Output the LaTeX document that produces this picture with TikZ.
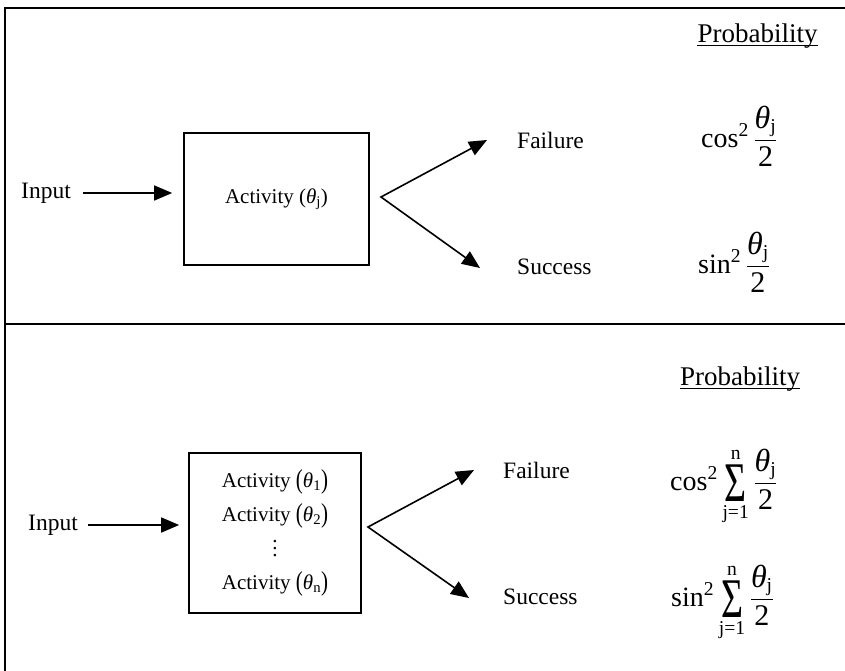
\RequirePackage{fix-cm}
\documentclass[tikz,border=0pt]{standalone}
\usepackage{amsmath}
\usepackage{graphicx}
\usepackage{fontspec}
\setmainfont{Liberation Serif}
\usetikzlibrary{arrows.meta}
\newcommand{\thsub}[1]{$\text{\itshape θ}_{\text{#1}}$}
\newcommand{\bigparen}[1]{\raisebox{-1.5pt}{\scalebox{1}[1.3]{(}}#1\raisebox{-1.5pt}{\scalebox{1}[1.3]{)}}}
\newcommand{\halfang}{\dfrac{\text{\fontsize{32}{32}\selectfont\itshape θ}_{\text{j}}}{\text{\fontsize{30}{30}\selectfont 2}}}
\newcommand{\sumj}{\mathop{\vcenter{\hbox{\scalebox{1.35}[2.0]{Σ}}}}\limits^{\text{n}}_{\text{j=1}}}
\newcommand{\actdots}{\raisebox{-1pt}{\vbox{\baselineskip=7pt\hbox{.}\hbox{.}\hbox{.}}}}

\begin{document}
\begin{tikzpicture}[x=1pt, y=-1pt,
  txt/.style={font=\fontsize{23.5}{28}\selectfont, inner sep=0pt},
  acttxt/.style={font=\fontsize{21}{34}\selectfont, align=center},
  prob/.style={font=\fontsize{27}{32}\selectfont, inner sep=0pt, anchor=base},
  formula/.style={font=\fontsize{28}{34}\selectfont, inner sep=0pt, anchor=base west},
  actbox/.style={draw, line width=1.7pt, inner sep=0pt},
  frame/.style={line width=1.8pt},
  arrow/.style={-{Triangle[length=18pt, width=15pt]}, line width=1.6pt},
  forkarrow/.style={{Triangle[length=18pt, width=15pt]}-{Triangle[length=18pt, width=15pt]}, line width=1.6pt}
]

\clip (0,0) rectangle (845,670);

% Frame and divider
\draw[frame] (5,8) rectangle (860,690);
\draw[frame] (5,324) -- (860,324);

% Upper panel: single activity
\node[txt, anchor=west] (in_top) at (21,193) {Input};
\node[actbox, acttxt, minimum width=185, minimum height=132] (act_top) at (276.5,199) {Activity (\thsub{j})};
\draw[arrow, shorten <=12pt, shorten >=11pt] (in_top.east) -- (in_top.east -| act_top.west);

\coordinate (fork_top) at (381,197);
\coordinate (tip_fail_top) at (487,140);
\coordinate (tip_succ_top) at (480,268);
\draw[forkarrow] (tip_fail_top) -- (fork_top) -- (tip_succ_top);

\node[txt, anchor=base west] (fail_top) at (517,148) {Failure};
\node[txt, anchor=base west] (succ_top) at (517,274) {Success};

\node[prob] (prob_top) at (757.5,42) {Probability};
\draw[line width=1pt] ([yshift=-3pt]prob_top.base west) -- ([yshift=-3pt]prob_top.base east);
\node[formula] (pfail_top) at (701,147) {$\text{cos}^{\text{2}}\,\halfang$};
\node[formula] (psucc_top) at (698,273) {$\text{sin}^{\text{2}}\,\halfang$};

% Lower panel: n activities
\node[txt, anchor=west] (in_bot) at (28,525) {Input};
\node[actbox, acttxt, minimum width=172, minimum height=160] (act_bot) at (275,533)
  {Activity \bigparen{\thsub{1}}\\Activity \bigparen{\thsub{2}}\\\actdots\\Activity \bigparen{\thsub{n}}};
\draw[arrow, shorten <=10pt, shorten >=9pt] (in_bot.east) -- (in_bot.east -| act_bot.west);

\coordinate (fork_bot) at (368,527);
\coordinate (tip_fail_bot) at (474,470);
\coordinate (tip_succ_bot) at (469,598);
\draw[forkarrow] (tip_fail_bot) -- (fork_bot) -- (tip_succ_bot);

\node[txt, anchor=base west] (fail_bot) at (503,478) {Failure};
\node[txt, anchor=base west] (succ_bot) at (503,604) {Success};

\node[prob] (prob_bot) at (740,385) {Probability};
\draw[line width=1pt] ([yshift=-3pt]prob_bot.base west) -- ([yshift=-3pt]prob_bot.base east);
\node[formula] (pfail_bot) at (670,490) {$\text{cos}^{\text{2}}\sumj\halfang$};
\node[formula] (psucc_bot) at (671,606) {$\text{sin}^{\text{2}}\sumj\halfang$};

\end{tikzpicture}
\end{document}
